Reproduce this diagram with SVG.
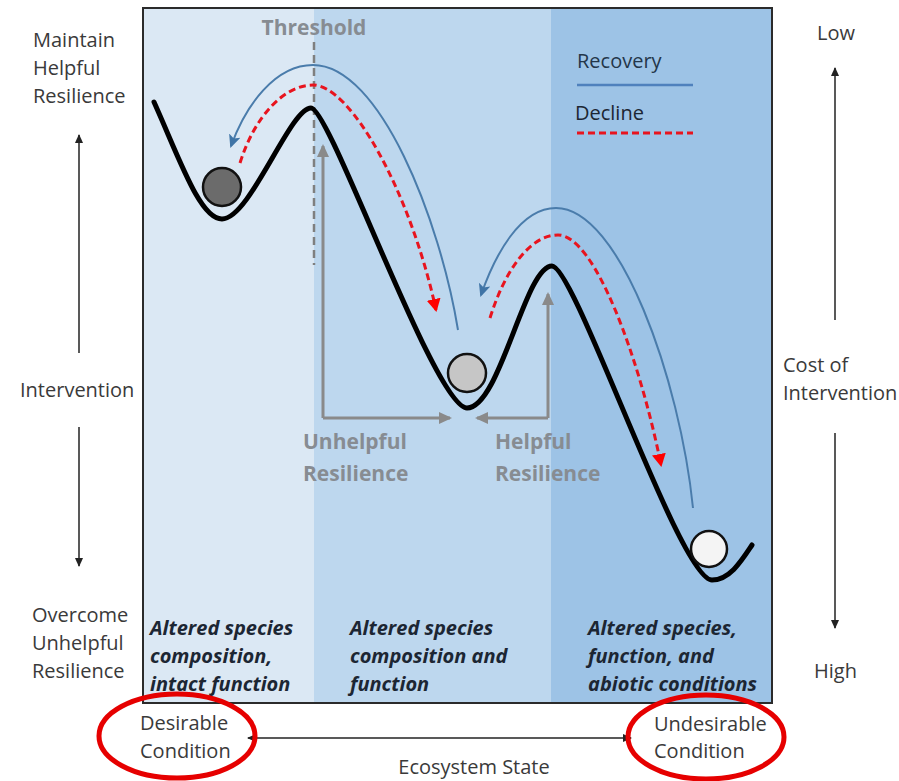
<svg xmlns="http://www.w3.org/2000/svg" width="899" height="781" viewBox="0 0 899 781">
<defs>
<style>
.lbl{font-family:"Open Sans","Liberation Sans",sans-serif;font-size:20px;fill:#3a3a3a}
.gb{font-family:"Open Sans","Liberation Sans",sans-serif;font-size:21px;font-weight:bold;fill:#878c92}
.bi{font-family:"Open Sans","Liberation Sans",sans-serif;font-size:20px;font-weight:bold;font-style:italic;fill:#1c2633}
.axis{stroke:#222;stroke-width:1.5;fill:none}
.rec{stroke:#4a7cab;stroke-width:2;fill:none}
.dec{stroke:#e8141e;stroke-width:3;stroke-dasharray:7 4;fill:none}
.gray{stroke:#8a8a8a;stroke-width:3;fill:none}
.ball{stroke:#111;stroke-width:2.5}
.ring{fill:none;stroke:#e60000;stroke-width:5}
</style>
<marker id="ah" markerWidth="10" markerHeight="10" refX="8" refY="5" orient="auto" markerUnits="userSpaceOnUse"><path d="M0,1 L9,5 L0,9 Z" fill="#222"/></marker>
<marker id="ahBlue" markerWidth="14" markerHeight="14" refX="11" refY="7" orient="auto" markerUnits="userSpaceOnUse"><path d="M0,1 L13,7 L0,13 L3,7 Z" fill="#3f74a6"/></marker>
<marker id="ahRed" markerWidth="14" markerHeight="14" refX="11" refY="7" orient="auto" markerUnits="userSpaceOnUse"><path d="M0,0 L13,7 L0,14 Z" fill="#f00"/></marker>
<marker id="ahGray" markerWidth="14" markerHeight="14" refX="11" refY="7" orient="auto" markerUnits="userSpaceOnUse"><path d="M0,1 L13,7 L0,13 Z" fill="#8a8a8a"/></marker>
</defs>
<rect width="899" height="781" fill="#ffffff"/>
<g id="panel">
<rect x="143" y="8" width="171" height="695" fill="#dbe8f4"/>
<rect x="314" y="8" width="237" height="695" fill="#bdd7ee"/>
<rect x="551" y="8" width="221" height="695" fill="#9dc3e6"/>
<rect x="143" y="8" width="629" height="695" fill="none" stroke="#2b2b2b" stroke-width="2"/>
</g>
<g id="threshold">
<line x1="314" y1="42" x2="314" y2="265" stroke="#7f7f7f" stroke-width="2.5" stroke-dasharray="8 5"/>
<text class="gb" x="314" y="35" text-anchor="middle">Threshold</text>
</g>
<g id="legend">
<text class="lbl" x="577" y="68" style="fill:#24364a">Recovery</text>
<line x1="577" y1="85" x2="693" y2="85" stroke="#4f81bd" stroke-width="2.5"/>
<text class="lbl" x="575" y="120" style="fill:#1c2633">Decline</text>
<line x1="577" y1="133" x2="693" y2="133" stroke="#e8141e" stroke-width="3" stroke-dasharray="7 4"/>
</g>
<g id="resilience-arrows">
<path class="gray" d="M323,418 L323,146" marker-end="url(#ahGray)"/>
<path class="gray" d="M323,418 L450,418" marker-end="url(#ahGray)"/>
<path class="gray" d="M548,418 L548,294" marker-end="url(#ahGray)"/>
<path class="gray" d="M548,418 L477,418" marker-end="url(#ahGray)"/>
</g>
<g id="landscape">
<path d="M154,102 C180,160 200,219 222,219 C250,219 290,108 311,108 C330,108 435,408 467,408 C500,408 525,266 552,266 C575,266 680,580 712,580 C730,580 742,560 752,545" fill="none" stroke="#000" stroke-width="5" stroke-linecap="round" stroke-linejoin="round"/>
</g>
<g id="ball-desirable"><circle class="ball" cx="222" cy="187" r="19" fill="#6b6b6b"/></g>
<g id="ball-middle"><circle class="ball" cx="467" cy="373" r="19" fill="#c6c6c6"/></g>
<g id="ball-undesirable"><circle class="ball" cx="709" cy="549" r="18" fill="#f4f4f4"/></g>
<g id="connectors">
<path class="rec" d="M458,330 C440,220 380,65 313,65 C275,65 246,105 231,146" marker-end="url(#ahBlue)"/>
<path class="dec" d="M240,163 C255,115 285,85 313,85 C350,85 410,190 436,310" marker-end="url(#ahRed)"/>
<path class="rec" d="M693,508 C680,380 620,208 556,208 C520,208 495,255 481,295" marker-end="url(#ahBlue)"/>
<path class="dec" d="M490,318 C505,270 530,235 558,235 C595,235 640,360 661,465" marker-end="url(#ahRed)"/>
</g>
<g id="resilience-labels">
<text class="gb" x="303" y="449">Unhelpful</text>
<text class="gb" x="303" y="481">Resilience</text>
<text class="gb" x="495" y="449">Helpful</text>
<text class="gb" x="495" y="481">Resilience</text>
</g>
<g id="state-labels">
<text class="bi" x="150" y="635">Altered species</text>
<text class="bi" x="150" y="663">composition,</text>
<text class="bi" x="150" y="691">intact function</text>
<text class="bi" x="350" y="635">Altered species</text>
<text class="bi" x="350" y="663">composition and</text>
<text class="bi" x="350" y="691">function</text>
<text class="bi" x="588" y="635">Altered species,</text>
<text class="bi" x="588" y="663">function, and</text>
<text class="bi" x="588" y="691">abiotic conditions</text>
</g>
<g id="left-axis">
<text class="lbl" x="33" y="47">Maintain</text>
<text class="lbl" x="33" y="75">Helpful</text>
<text class="lbl" x="33" y="103">Resilience</text>
<path class="axis" d="M79,353 L79,135" marker-end="url(#ah)"/>
<text class="lbl" x="20" y="397">Intervention</text>
<path class="axis" d="M79,427 L79,566" marker-end="url(#ah)"/>
<text class="lbl" x="32" y="622">Overcome</text>
<text class="lbl" x="32" y="650">Unhelpful</text>
<text class="lbl" x="32" y="678">Resilience</text>
</g>
<g id="right-axis">
<text class="lbl" x="817" y="40">Low</text>
<path class="axis" d="M835,320 L835,68" marker-end="url(#ah)"/>
<text class="lbl" x="783" y="372">Cost of</text>
<text class="lbl" x="783" y="400">Intervention</text>
<path class="axis" d="M835,433 L835,628" marker-end="url(#ah)"/>
<text class="lbl" x="814" y="678">High</text>
</g>
<g id="bottom-axis">
<path class="axis" d="M440,738 L248,738" marker-end="url(#ah)"/>
<path class="axis" d="M440,738 L631,738" marker-end="url(#ah)"/>
<text class="lbl" x="140" y="730">Desirable</text>
<text class="lbl" x="140" y="758">Condition</text>
<text class="lbl" x="654" y="731">Undesirable</text>
<text class="lbl" x="654" y="758">Condition</text>
<text class="lbl" x="474" y="774" text-anchor="middle">Ecosystem State</text>
</g>
<g id="highlights">
<ellipse class="ring" cx="177" cy="736" rx="78" ry="42"/>
<ellipse class="ring" cx="706" cy="737" rx="78" ry="42"/>
</g>
</svg>
